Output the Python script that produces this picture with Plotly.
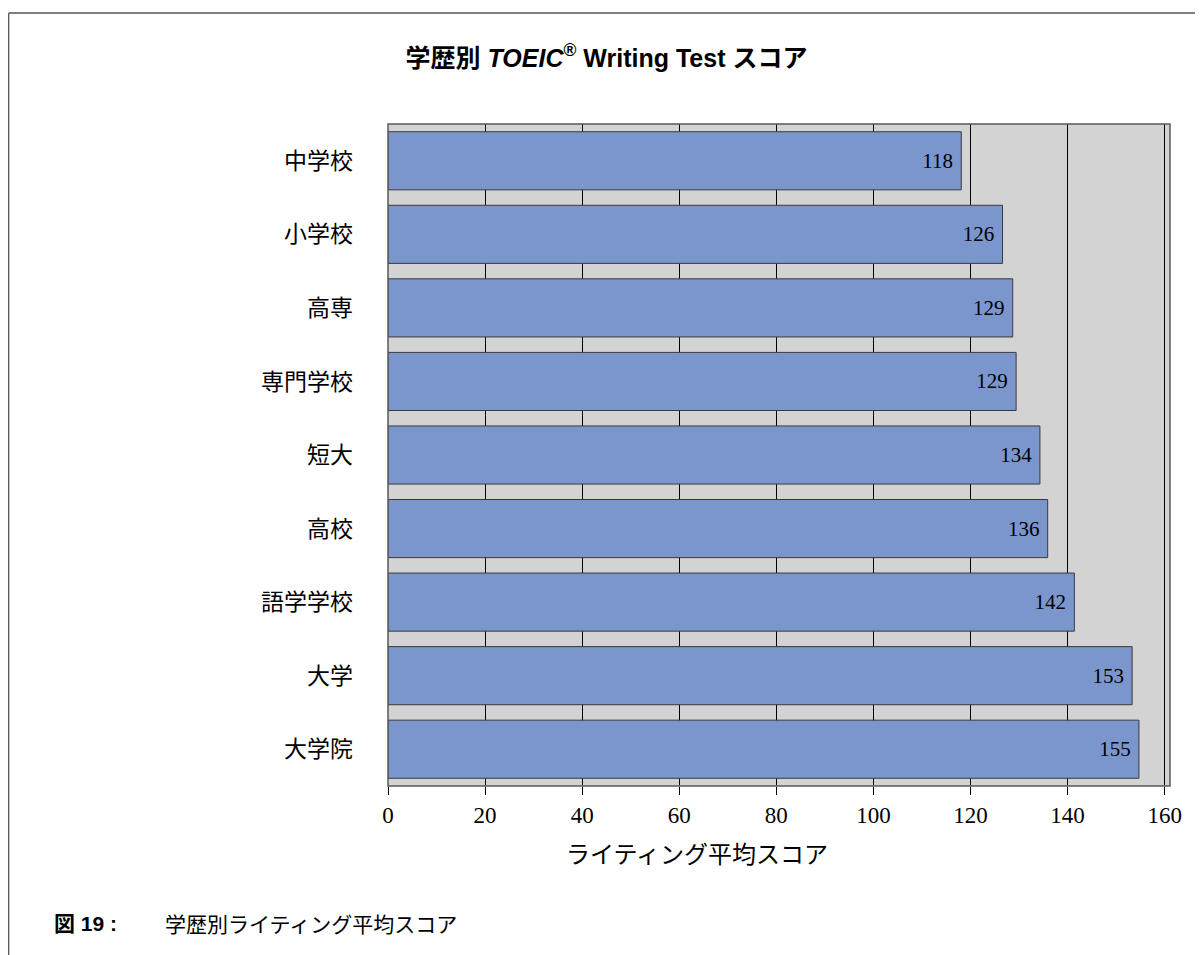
import plotly.graph_objects as go

categories = ["中学校", "小学校", "高専", "専門学校", "短大", "高校", "語学学校", "大学", "大学院"]
scores = [118.1, 126.6, 128.7, 129.4, 134.3, 135.9, 141.4, 153.3, 154.7]
score_labels = ["118", "126", "129", "129", "134", "136", "142", "153", "155"]
x_ticks = [0, 20, 40, 60, 80, 100, 120, 140, 160]

# page offset (browser body margin)
O = 8
W, H = 1203 - O, 955 - O
# plot area in page pixels
PL, PR, PT, PB = 388, 1170, 124, 786
L, R, T, B = PL - O, PR - O, PT - O, PB - O

def px(x):
    """page x pixel -> paper"""
    return (x - PL) / (PR - PL)

def py(y):
    """page y pixel -> paper"""
    return (PB - y) / (PB - PT)

fig = go.Figure()
fig.add_trace(go.Bar(
    y=categories,
    x=scores,
    orientation="h",
    marker=dict(color="#7B96CC", line=dict(color="#3A3A3A", width=1)),
    text=[s + "\u00a0" for s in score_labels],
    textposition="inside",
    insidetextanchor="end",
    textfont=dict(family="Liberation Serif", size=21, color="black"),
    hoverinfo="skip",
))

fig.update_layout(
    width=W, height=H,
    margin=dict(l=L, r=W - R, t=T, b=H - B, autoexpand=False),
    paper_bgcolor="white",
    plot_bgcolor="#D3D3D3",
    showlegend=False,
    bargap=0.21,
    title=dict(
        text="<b>学歴別 <i>TOEIC</i><sup>®</sup> Writing Test スコア</b>",
        x=(606.5 - O) / W, xref="container", xanchor="center",
        y=1 - (58 - O) / H, yref="container", yanchor="middle",
        font=dict(family="Liberation Sans, Noto Sans CJK JP", size=25, color="black"),
    ),
)

fig.update_xaxes(
    range=[0, 161.1],
    tickvals=x_ticks,
    ticktext=[str(v) for v in x_ticks],
    showgrid=True, gridcolor="black", gridwidth=1,
    zeroline=False,
    ticks="outside", ticklen=8, tickcolor="black", tickwidth=1,
    tickfont=dict(family="Liberation Serif", size=23, color="black"),
    showline=False,
    fixedrange=True,
)
fig.update_yaxes(
    autorange="reversed",
    showgrid=False, zeroline=False,
    ticks="", showline=False,
    tickfont=dict(family="Noto Sans CJK JP", size=23, color="black"),
    ticklabelstandoff=34,
    fixedrange=True,
)

# plot frame
fig.add_shape(type="rect", xref="paper", yref="paper", x0=0, x1=1, y0=0, y1=1,
              line=dict(color="#5A5A5A", width=1.5), layer="above")
# outer frame lines (top and left)
fig.add_shape(type="line", xref="paper", yref="paper",
              x0=px(8.7), x1=px(1215), y0=py(13), y1=py(13),
              line=dict(color="#555555", width=1.3))
fig.add_shape(type="line", xref="paper", yref="paper",
              x0=px(8.7), x1=px(8.7), y0=py(13), y1=py(970),
              line=dict(color="#555555", width=1.3))

# x axis title
fig.add_annotation(text="ライティング平均スコア", xref="paper", yref="paper",
                   x=px(697), y=py(852), xanchor="center", yanchor="middle",
                   showarrow=False,
                   font=dict(family="Noto Sans CJK JP", size=24, color="black"))
# caption
fig.add_annotation(text="<b>図 19 :</b>", xref="paper", yref="paper",
                   x=px(52), y=py(923), xanchor="left", yanchor="middle",
                   showarrow=False,
                   font=dict(family="Liberation Sans, Noto Sans CJK JP", size=21, color="black"))
fig.add_annotation(text="学歴別ライティング平均スコア", xref="paper", yref="paper",
                   x=px(163), y=py(923), xanchor="left", yanchor="middle",
                   showarrow=False,
                   font=dict(family="Noto Sans CJK JP", size=21, color="black"))

fig.write_html("out.html")
